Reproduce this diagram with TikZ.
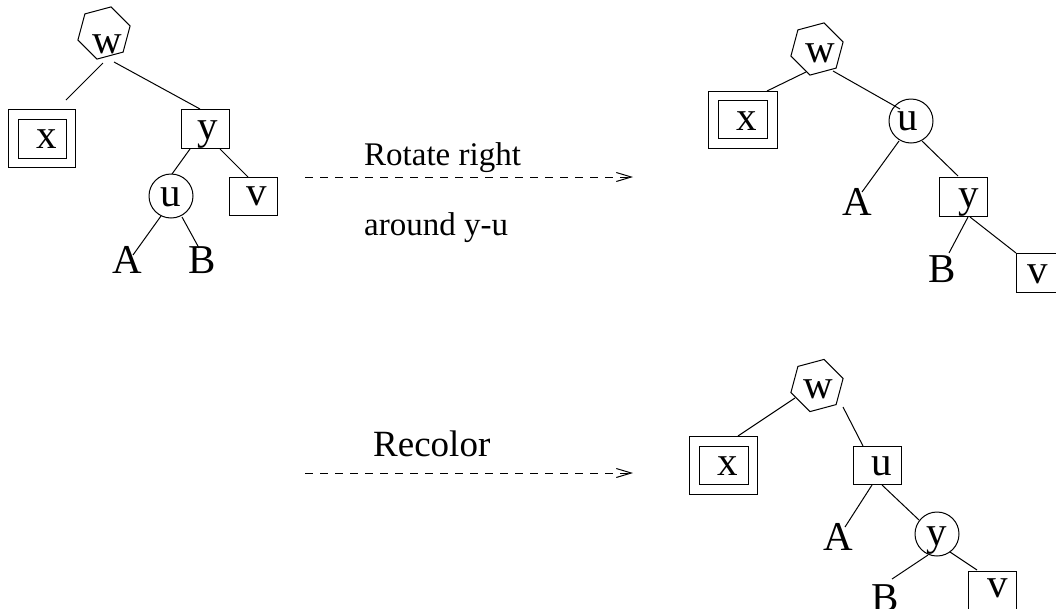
\documentclass[tikz,border=0pt]{standalone}
\usepackage{fontspec}
\setmainfont{Liberation Serif}
\usetikzlibrary{shapes.geometric,arrows.meta}
\begin{document}
\begin{tikzpicture}[x=1pt,y=-1pt,
  tbox/.style={draw,line width=1pt,rectangle,inner sep=0pt,minimum width=48,minimum height=39},
  hexa/.style={draw,line width=1pt,regular polygon,regular polygon sides=6,shape border rotate=15,inner sep=0pt,minimum size=54},
  circ/.style={draw,line width=1pt,circle,inner sep=0pt,minimum size=44},
  lbl/.style={anchor=base,inner sep=0pt,font=\fontsize{41}{41}\selectfont},
  captext/.style={anchor=base west,inner sep=0pt,font=\fontsize{33}{33}\selectfont},
  edge/.style={draw,line width=1pt},
  arr/.style={draw,line width=1pt,dash pattern=on 8pt off 7pt,-{Straight Barb[length=15pt,width=9pt,line width=1pt]}}]
\useasboundingbox (0,0) rectangle (1056,608);
\clip (0,0) rectangle (1056,608);

% ---------- Tree 1 ----------
\node[hexa] (w1) at (104,33) {};
\node[tbox,minimum width=67,minimum height=58] (x1o) at (41.5,138) {};
\node[tbox,minimum width=48,minimum height=39] (x1) at (42,138.5) {};
\node[tbox] (y1) at (205,128.5) {};
\node[circ] (u1) at (171,196) {};
\node[tbox,minimum height=38] (v1) at (253,196) {};
\node[lbl] (w1t) at (107,53) {w};
\node[lbl] (x1t) at (47,148) {x};
\node[lbl] (y1t) at (208,139) {y};
\node[lbl] (u1t) at (171,206) {u};
\node[lbl] (v1t) at (257,205) {v};
\node[lbl] (A1) at (127,273) {A};
\node[lbl] (B1) at (202,273) {B};
\coordinate (e1a) at (103,63);  \coordinate (e1b) at (66,100);
\coordinate (e2a) at (114,62);  \coordinate (e2b) at (200,109);
\coordinate (e3a) at (190,149); \coordinate (e3b) at (172,174);
\coordinate (e4a) at (220,149); \coordinate (e4b) at (248,177);
\coordinate (e5a) at (161,216); \coordinate (e5b) at (133,255);
\coordinate (e6a) at (182,217); \coordinate (e6b) at (199,248);
\path[edge] (e1a) -- (e1b);
\path[edge] (e2a) -- (e2b);
\path[edge] (e3a) -- (e3b);
\path[edge] (e4a) -- (e4b);
\path[edge] (e5a) -- (e5b);
\path[edge] (e6a) -- (e6b);

% ---------- Arrows ----------
\node[captext] (t1) at (364,165) {Rotate right};
\node[captext] (t2) at (364,235) {around y-u};
\node[captext,font=\fontsize{37}{37}\selectfont] (t3) at (373,456) {Recolor};
\coordinate (a1s) at (305,177); \coordinate (a1e) at (633,177);
\coordinate (a2s) at (305,473); \coordinate (a2e) at (633,473);
\path[arr] (a1s) -- (a1e);
\path[arr] (a2s) -- (a2e);

% ---------- Tree 2 ----------
\node[hexa] (w2) at (817,49) {};
\node[tbox,minimum width=69,minimum height=57] (x2o) at (742.5,119.5) {};
\node[tbox,minimum width=49,minimum height=38] (x2) at (742.5,119) {};
\node[circ] (u2) at (911,121) {};
\node[tbox] (y2) at (963,196.5) {};
\node[tbox] (v2) at (1040,272.5) {};
\node[lbl] (w2t) at (820,62) {w};
\node[lbl] (x2t) at (747,130) {x};
\node[lbl] (u2t) at (908,130) {u};
\node[lbl] (A2) at (857,215) {A};
\node[lbl] (y2t) at (969,207) {y};
\node[lbl] (B2) at (942,282) {B};
\node[lbl] (v2t) at (1038,283) {v};
\coordinate (f1a) at (806,72);  \coordinate (f1b) at (767,91);
\coordinate (f2a) at (833,71);  \coordinate (f2b) at (900,109);
\coordinate (f3a) at (899,141); \coordinate (f3b) at (862,192);
\coordinate (f4a) at (922,141); \coordinate (f4b) at (958,176);
\coordinate (f5a) at (968,217); \coordinate (f5b) at (949,253);
\coordinate (f6a) at (970,217); \coordinate (f6b) at (1016,253);
\path[edge] (f1a) -- (f1b);
\path[edge] (f2a) -- (f2b);
\path[edge] (f3a) -- (f3b);
\path[edge] (f4a) -- (f4b);
\path[edge] (f5a) -- (f5b);
\path[edge] (f6a) -- (f6b);

% ---------- Tree 3 ----------
\node[hexa] (w3) at (817,385.5) {};
\node[tbox,minimum width=68,minimum height=58] (x3o) at (723,465) {};
\node[tbox,minimum width=49,minimum height=38] (x3) at (723.5,465) {};
\node[tbox,minimum height=38] (u3) at (877,465) {};
\node[circ] (y3) at (937,534) {};
\node[tbox] (v3) at (992,590.5) {};
\node[lbl] (w3t) at (818,398) {w};
\node[lbl] (x3t) at (728,475) {x};
\node[lbl] (u3t) at (882,475) {u};
\node[lbl] (A3) at (838,550) {A};
\node[lbl] (y3t) at (937,545) {y};
\node[lbl] (B3) at (885,611) {B};
\node[lbl] (v3t) at (998,597) {v};
\coordinate (g1a) at (795,398); \coordinate (g1b) at (738,436);
\coordinate (g2a) at (843,407); \coordinate (g2b) at (863,446);
\coordinate (g3a) at (872,485); \coordinate (g3b) at (845,527);
\coordinate (g4a) at (882,485); \coordinate (g4b) at (919,520);
\coordinate (g5a) at (928,555); \coordinate (g5b) at (892,579);
\coordinate (g6a) at (950,552); \coordinate (g6b) at (977,570);
\path[edge] (g1a) -- (g1b);
\path[edge] (g2a) -- (g2b);
\path[edge] (g3a) -- (g3b);
\path[edge] (g4a) -- (g4b);
\path[edge] (g5a) -- (g5b);
\path[edge] (g6a) -- (g6b);
\end{tikzpicture}
\end{document}
